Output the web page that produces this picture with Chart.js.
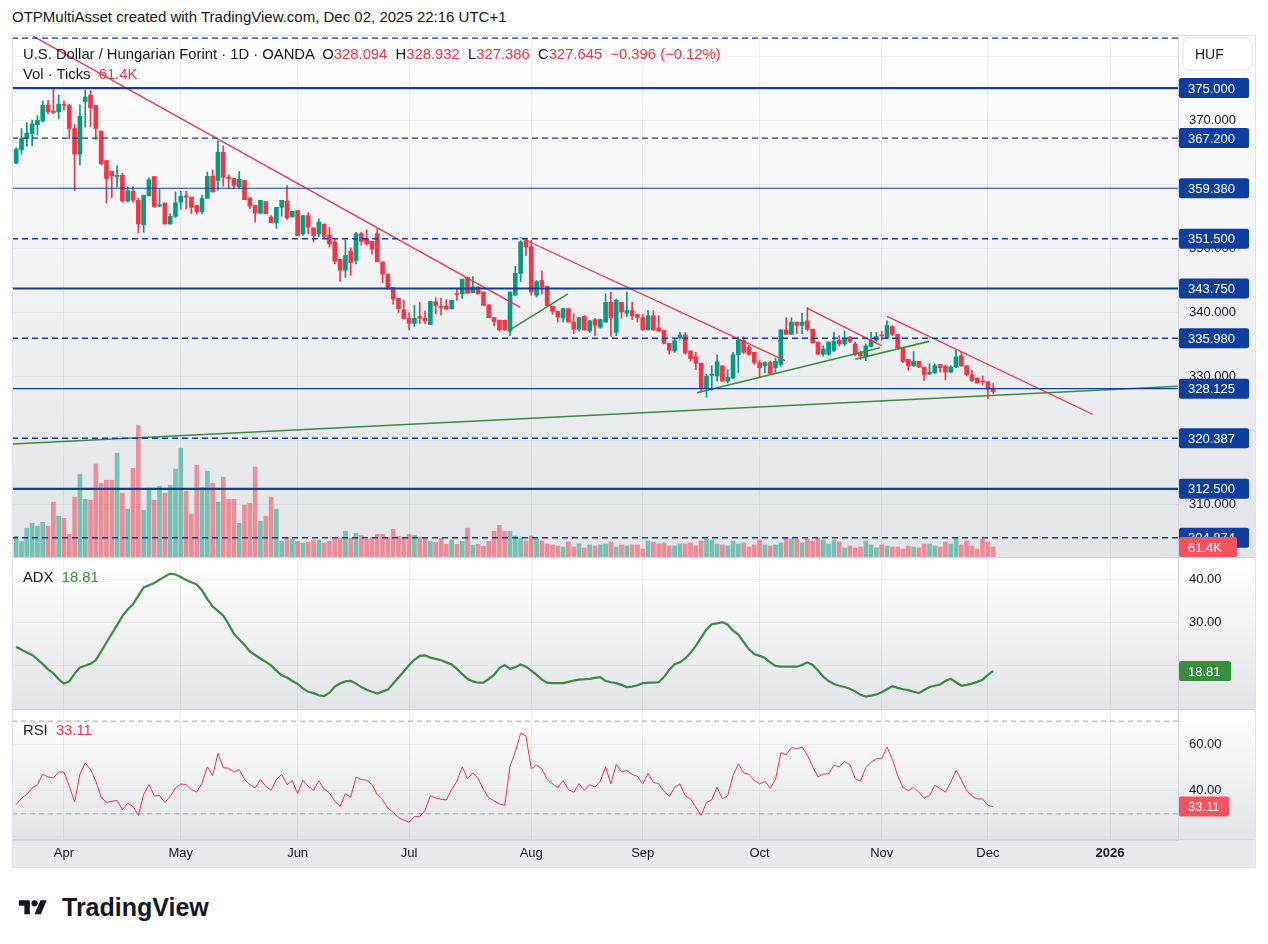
<!DOCTYPE html>
<html>
<head>
<meta charset="utf-8">
<script src="https://cdn.jsdelivr.net/npm/chart.js@4.4.1/dist/chart.umd.min.js"></script>
<style>
  body { margin: 0; background: #fff; width: 1268px; height: 944px; position: relative; overflow: hidden;
         font-family: "Liberation Sans", Arial, sans-serif; color: #131722; }
  .abs { position: absolute; }
  canvas { position: absolute; left: 12px; }
  #hdr { left: 12px; top: 8px; font-size: 15px; }
  .leg { left: 23px; font-size: 14.8px; line-height: 18px; white-space: pre; }
  .red { color: #f23645; }
  .grn { color: #388e3c; }
  #frame { left: 12px; top: 35px; width: 1244px; height: 833px; border: 1px solid #e0e3eb; box-sizing: border-box; pointer-events: none; }
  #logo { left: 14px; top: 893px; display: flex; align-items: center; font-size: 25px; font-weight: bold; }
</style>
</head>
<body>
<div id="hdr" class="abs">OTPMultiAsset created with TradingView.com, Dec 02, 2025 22:16 UTC+1</div>
<canvas id="priceChart" width="1244" height="523" style="top:35px"></canvas>
<canvas id="adxChart" width="1244" height="152" style="top:558px"></canvas>
<canvas id="rsiChart" width="1244" height="158" style="top:710px"></canvas>
<div id="frame" class="abs"></div>
<div class="abs leg" style="top:45px">U.S. Dollar / Hungarian Forint · 1D · OANDA  O<span class="red">328.094</span>  H<span class="red">328.932</span>  L<span class="red">327.386</span>  C<span class="red">327.645</span>  <span class="red">−0.396 (−0.12%)</span></div>
<div class="abs leg" style="top:65px">Vol · Ticks  <span class="red">61.4K</span></div>
<div class="abs leg" style="top:568px">ADX  <span class="grn">18.81</span></div>
<div class="abs leg" style="top:721px">RSI  <span class="red">33.11</span></div>
<div id="logo" class="abs">
  <svg width="38" height="22" viewBox="0 0 36 28"><path fill="#131722" d="M14 22H7V11H0V4h14v18zM28 22h-8l7.5-18h8L28 22z"/><circle fill="#131722" cx="20" cy="8" r="4"/></svg>
  <span style="margin-left:10px">TradingView</span>
</div>

<script>
// daily USD/HUF candles, Mar 19 - Dec 02 2025 (bar index 0..184)
const opens = [
  363.3, 365.4, 367.1, 367.9, 369.3, 369.9, 372.3, 371.4, 371.3, 372.4,
  372.3, 368.7, 364.7, 372.9, 373.9, 372.3, 368.3, 363.7, 362.0, 361.2,
  361.4, 357.4, 358.9, 357.5, 353.7, 358.2, 361.2, 356.6, 357.1, 353.8,
  355.0, 357.2, 358.2, 358.0, 356.7, 355.7, 357.8, 361.25, 360.6, 365.0,
  361.1, 360.9, 359.6, 360.6, 357.9, 356.7, 355.5, 357.3, 354.9, 354.0,
  356.4, 357.4, 354.9, 355.9, 352.3, 355.1, 353.2, 352.3, 353.8, 352.1,
  351.0, 348.3, 346.6, 349.6, 348.1, 352.3, 351.5, 351.1, 352.3, 347.9,
  346.0, 343.9, 342.2, 340.4, 339.1, 338.3, 339.4, 339.1, 338.1, 341.7,
  341.0, 341.0, 340.6, 342.9, 342.9, 345.5, 343.1, 344.0, 343.2, 341.2,
  339.2, 338.8, 338.8, 337.1, 342.7, 346.1, 351.2, 350.3, 342.7, 345.0,
  344.1, 341.0, 340.2, 339.2, 340.6, 338.5, 337.4, 339.4, 337.1, 338.9,
  337.7, 338.5, 341.6, 336.9, 341.6, 339.9, 340.3, 339.7, 339.2, 337.3,
  339.5, 337.6, 337.2, 335.2, 334.0, 336.0, 336.5, 334.0, 333.1, 332.1,
  328.2, 330.2, 330.1, 331.7, 329.3, 329.8, 333.4, 335.7, 334.6, 333.8,
  332.2, 331.7, 332.2, 331.4, 331.9, 337.3, 336.6, 338.5, 338.0, 338.7,
  337.4, 335.4, 333.5, 333.5, 334.1, 335.7, 335.1, 336.15, 335.1, 333.6,
  333.1, 334.7, 335.7, 336.45, 336.0, 337.8, 336.6, 334.5, 332.7, 331.7,
  332.4, 331.5, 330.4, 330.6, 331.9, 331.7, 330.7, 331.5, 333.25, 331.7,
  330.3, 329.8, 329.25, 329.2, 328.094
];
const highs = [
  365.7, 368.7, 369.6, 370.0, 370.7, 373.0, 373.1, 375.0, 373.9, 373.0,
  372.5, 369.3, 372.4, 374.7, 374.6, 372.3, 368.3, 363.7, 362.0, 362.9,
  361.7, 359.6, 359.6, 357.8, 358.3, 361.0, 361.2, 359.2, 357.1, 355.4,
  358.8, 358.9, 358.9, 358.0, 356.7, 358.3, 361.9, 362.2, 366.7, 366.0,
  361.5, 360.9, 362.0, 360.6, 357.9, 356.7, 357.5, 357.3, 355.1, 356.4,
  357.5, 359.8, 355.8, 355.9, 355.1, 355.6, 353.2, 354.6, 353.8, 353.3,
  351.5, 348.3, 351.3, 350.1, 352.5, 352.5, 352.9, 351.1, 353.1, 347.9,
  346.0, 343.9, 342.2, 341.9, 340.0, 341.1, 341.6, 340.2, 341.7, 342.3,
  342.2, 342.0, 341.9, 343.7, 345.2, 345.5, 345.6, 344.0, 343.2, 341.2,
  339.2, 338.8, 338.8, 343.2, 347.2, 351.2, 351.4, 351.3, 345.0, 346.5,
  344.1, 341.0, 340.2, 340.7, 340.6, 339.8, 339.2, 339.5, 338.8, 339.1,
  339.0, 342.9, 343.2, 342.1, 341.6, 343.2, 341.6, 339.7, 339.7, 340.3,
  340.3, 339.5, 337.2, 335.2, 335.9, 336.9, 336.9, 334.0, 333.8, 332.1,
  330.4, 331.7, 333.4, 331.7, 331.1, 333.8, 336.2, 336.2, 334.9, 333.8,
  332.5, 332.3, 332.4, 332.9, 337.3, 339.2, 339.2, 338.5, 339.9, 340.8,
  337.4, 335.4, 334.8, 335.4, 336.9, 336.4, 337.1, 336.3, 335.4, 334.0,
  335.1, 336.9, 336.9, 337.1, 338.75, 337.97, 336.6, 334.5, 332.7, 333.9,
  332.4, 331.5, 332.0, 332.0, 331.9, 331.7, 331.7, 334.1, 333.8, 331.7,
  331.0, 329.8, 330.1, 329.2, 328.932
];
const lows = [
  363.2, 364.7, 365.9, 366.0, 367.7, 369.7, 371.0, 371.0, 370.2, 371.6,
  367.1, 359.0, 363.0, 368.9, 369.0, 367.0, 363.0, 357.1, 357.9, 359.6,
  357.2, 357.2, 357.2, 352.4, 352.5, 358.2, 356.4, 356.5, 353.8, 353.8,
  354.8, 356.1, 356.1, 355.4, 355.4, 355.4, 357.8, 358.8, 359.1, 359.7,
  359.3, 359.3, 359.3, 357.6, 356.2, 354.1, 355.4, 355.4, 354.0, 353.1,
  355.0, 354.5, 354.9, 352.0, 352.0, 352.3, 351.0, 351.8, 351.5, 350.2,
  347.6, 344.9, 345.5, 345.8, 347.6, 350.5, 350.5, 349.1, 347.9, 344.6,
  343.6, 341.3, 340.0, 339.0, 337.3, 337.8, 338.3, 338.3, 338.1, 339.8,
  339.6, 340.4, 340.5, 341.9, 342.2, 343.0, 343.1, 342.9, 341.1, 339.2,
  337.9, 337.1, 337.2, 336.4, 342.7, 344.8, 348.9, 342.7, 342.4, 342.9,
  341.1, 339.7, 338.5, 338.5, 338.5, 336.7, 337.1, 337.2, 336.9, 336.4,
  337.5, 338.5, 336.3, 336.4, 339.1, 339.3, 338.9, 338.5, 337.2, 337.3,
  337.2, 337.1, 335.1, 333.5, 333.8, 335.8, 333.5, 332.4, 331.1, 327.6,
  326.8, 327.9, 329.3, 329.2, 329.0, 329.7, 330.6, 333.6, 333.3, 331.9,
  329.9, 330.6, 330.4, 330.6, 331.6, 336.6, 336.6, 336.7, 336.7, 337.1,
  335.2, 333.4, 333.2, 333.3, 333.9, 334.8, 334.8, 335.3, 333.25, 332.7,
  332.5, 334.6, 335.5, 335.7, 335.9, 336.4, 334.3, 332.2, 331.0, 331.6,
  331.4, 329.4, 330.3, 330.5, 330.7, 329.5, 330.6, 331.4, 331.6, 330.1,
  329.2, 329.0, 328.7, 326.6, 327.386
];
const closes = [
  365.5, 367.1, 368.0, 369.4, 370.0, 372.3, 371.3, 371.2, 372.5, 372.3,
  368.7, 364.7, 370.6, 373.6, 371.9, 368.7, 363.2, 360.9, 361.3, 361.4,
  357.4, 359.0, 357.5, 353.8, 358.3, 360.7, 356.5, 356.8, 353.8, 355.0,
  357.1, 358.1, 358.0, 356.4, 355.7, 357.8, 361.25, 358.8, 365.0, 361.1,
  360.9, 359.8, 360.8, 357.6, 356.6, 355.5, 357.5, 355.4, 354.0, 356.4,
  357.5, 354.8, 355.8, 352.0, 355.1, 353.3, 352.0, 354.1, 351.8, 350.7,
  348.0, 346.6, 348.9, 347.8, 352.3, 351.1, 350.7, 349.9, 347.9, 346.0,
  343.7, 342.1, 340.6, 339.0, 338.3, 339.1, 339.1, 338.7, 341.7, 341.1,
  340.8, 340.6, 341.9, 342.8, 345.2, 343.0, 344.0, 342.9, 341.1, 339.2,
  338.6, 337.3, 337.3, 343.2, 346.1, 351.0, 350.2, 343.2, 344.8, 344.0,
  341.1, 340.2, 339.3, 340.6, 338.5, 337.4, 339.2, 337.3, 338.7, 338.0,
  338.9, 341.6, 339.2, 341.9, 340.1, 340.3, 339.5, 339.2, 337.3, 339.5,
  337.3, 337.1, 335.2, 334.1, 335.6, 336.5, 333.7, 332.8, 332.1, 328.1,
  330.1, 330.4, 332.3, 329.3, 329.9, 333.4, 335.7, 333.8, 333.5, 332.2,
  331.4, 332.2, 330.5, 332.4, 337.3, 336.6, 338.5, 338.0, 338.5, 337.4,
  335.3, 333.5, 334.3, 335.4, 335.5, 335.1, 335.9, 335.5, 333.5, 333.25,
  334.8, 335.7, 336.25, 336.35, 337.97, 336.6, 334.5, 332.4, 331.7, 332.4,
  331.5, 330.3, 330.7, 331.7, 331.4, 330.7, 331.5, 333.1, 331.7, 330.3,
  329.4, 329.0, 329.15, 328.04, 327.645
];
// tick volume, thousands
const volumes = [
  121, 93, 166, 193, 177, 199, 177, 311, 233, 221,
  132, 339, 467, 327, 322, 523, 417, 433, 433, 584,
  361, 272, 500, 737, 266, 389, 322, 400, 361, 405,
  495, 612, 372, 244, 517, 394, 484, 417, 311, 450,
  327, 327, 193, 294, 305, 506, 205, 233, 339, 272,
  93, 115, 104, 93, 82, 87, 99, 99, 82, 93,
  104, 110, 149, 110, 138, 126, 104, 115, 132, 132,
  115, 160, 121, 110, 132, 126, 115, 115, 93, 87,
  110, 76, 99, 76, 93, 166, 71, 76, 65, 93,
  149, 182, 149, 149, 123, 112, 95, 123, 106, 95,
  78, 73, 67, 61, 89, 61, 78, 56, 73, 67,
  73, 78, 89, 61, 73, 67, 73, 73, 50, 95,
  89, 78, 84, 67, 67, 78, 78, 84, 67, 95,
  106, 100, 78, 73, 67, 95, 78, 84, 61, 73,
  100, 73, 67, 73, 84, 112, 106, 106, 84, 106,
  95, 112, 100, 78, 100, 89, 56, 67, 56, 61,
  95, 73, 56, 73, 67, 61, 61, 50, 67, 61,
  56, 78, 78, 67, 61, 89, 78, 112, 73, 95,
  67, 50, 106, 89, 61.4
];
const adxValues = [
  24.4, 23.7, 23.1, 22.5, 21.5, 20.4, 19.2, 18.3, 16.9, 15.9,
  16.4, 18.2, 19.6, 20.0, 20.5, 21.3, 23.3, 25.4, 27.4, 29.4,
  31.5, 33.0, 34.2, 36.2, 38.1, 38.6, 39.1, 39.9, 40.6, 41.3,
  41.1, 40.5, 39.8, 39.3, 38.8, 37.4, 35.4, 33.7, 32.7, 31.6,
  29.6, 27.4, 26.1, 24.8, 23.3, 22.5, 21.7, 20.9, 20.1, 18.9,
  17.8, 17.3, 16.5, 15.8, 14.8, 14.0, 13.7, 13.2, 13.0, 13.8,
  15.2, 15.9, 16.4, 16.5, 15.9, 15.1, 14.5, 14.0, 13.6, 14.1,
  14.5, 15.9, 17.3, 18.7, 20.2, 21.4, 22.3, 22.4, 21.9, 21.6,
  21.3, 20.8, 20.3, 19.3, 18.1, 17.0, 16.4, 16.1, 16.1, 17.0,
  17.9, 19.5, 20.2, 19.3, 19.7, 20.3, 19.8, 18.9, 17.9, 16.8,
  16.1, 16.0, 16.0, 16.0, 16.3, 16.6, 16.8, 16.9, 17.0, 17.2,
  17.4, 16.5, 16.2, 16.0, 15.6, 15.1, 15.2, 15.5, 16.0, 16.1,
  16.1, 16.2, 17.4, 19.1, 20.4, 20.8, 21.7, 23.0, 24.6, 26.5,
  28.4, 29.6, 29.8, 30.1, 29.5, 28.1, 27.2, 25.5, 23.8, 22.7,
  22.3, 21.8, 20.8, 20.0, 19.8, 19.8, 19.8, 19.8, 20.2, 20.8,
  20.2, 18.9, 17.5, 16.5, 15.8, 15.4, 15.1, 14.7, 14.1, 13.3,
  12.9, 13.1, 13.4, 13.9, 14.6, 15.3, 14.9, 14.6, 14.4, 14.0,
  13.7, 14.4, 15.1, 15.4, 15.7, 16.5, 17.0, 16.2, 15.4, 15.6,
  15.9, 16.3, 16.8, 17.9, 18.81
];
const rsiValues = [
  34.0, 36.8, 38.3, 41.2, 42.6, 47.0, 45.9, 45.5, 48.1, 48.0,
  41.9, 35.1, 47.0, 52.0, 49.1, 44.1, 37.2, 34.9, 35.4, 35.8,
  31.7, 34.6, 33.2, 29.3, 38.3, 42.6, 37.8, 37.8, 34.9, 37.5,
  41.2, 42.9, 42.6, 40.4, 39.4, 43.3, 50.3, 46.5, 56.1, 49.9,
  49.7, 48.0, 49.1, 44.8, 42.6, 41.2, 44.8, 41.9, 40.1, 44.8,
  47.0, 42.6, 44.3, 38.7, 44.5, 41.9, 40.1, 44.3, 40.7, 39.0,
  35.4, 33.2, 38.7, 37.2, 45.9, 44.8, 44.5, 42.6, 38.3, 36.0,
  32.5, 30.6, 28.3, 27.3, 26.4, 28.8, 28.8, 31.5, 37.8, 36.8,
  36.3, 36.0, 40.5, 44.1, 50.3, 45.2, 47.7, 45.1, 40.5, 37.0,
  35.5, 34.3, 33.6, 50.6, 56.7, 64.8, 63.6, 49.4, 51.0, 49.4,
  44.8, 43.0, 41.4, 44.3, 40.4, 39.3, 43.0, 40.1, 42.6, 41.6,
  44.1, 50.3, 42.9, 51.3, 48.1, 48.7, 47.0, 46.2, 42.9, 47.4,
  43.6, 43.0, 39.7, 37.5, 41.4, 42.9, 37.8, 36.4, 32.8, 29.3,
  34.9, 36.1, 41.4, 36.5, 37.8, 46.5, 51.6, 47.7, 47.0, 44.5,
  42.9, 44.1, 41.0, 44.8, 56.4, 55.4, 58.6, 58.1, 58.8, 55.4,
  50.3, 45.9, 47.2, 47.2, 50.9, 50.3, 52.5, 51.3, 45.2, 44.1,
  49.9, 52.3, 53.8, 53.8, 58.8, 53.5, 46.5, 41.4, 40.0, 41.4,
  39.3, 36.8, 37.8, 42.3, 40.9, 39.4, 43.6, 48.8, 44.5, 40.1,
  37.5, 36.4, 36.4, 33.6, 33.11
];

// x axis: bar index of the first trading day of each month
const monthIdx = [9, 31, 53, 74, 97, 118, 140, 163, 183, 206];
const monthNames = ['Apr', 'May', 'Jun', 'Jul', 'Aug', 'Sep', 'Oct', 'Nov', 'Dec', '2026'];

// horizontal levels drawn on the chart
const thickLevels = [375, 343.75, 312.5];
const thinLevels = [359.38, 328.125];
const dashedLevels = [382.8, 367.2, 351.5, 335.98, 320.387, 304.874];
const taggedLevels = [375, 367.2, 359.38, 351.5, 343.75, 335.98, 328.125, 320.387, 312.5, 304.874];

// trend lines: [startIndex, startPrice, endIndex, endPrice]
const redTrends = [[3.16, 383.1, 94.9, 340.8], [94.9, 351.7, 144.8, 332.5], [149.1, 340.6, 163.0, 334.8], [164.0, 339.4, 202.8, 324.1]];
const greenTrends = [[-0.79, 319.5, 218.8, 328.5], [92.6, 337.1, 103.9, 342.9], [128.2, 327.5, 162.7, 334.5], [158.0, 332.7, 171.9, 335.5]];

const rsiBands = [70, 30];
const priceTicks = [310, 320, 330, 340, 350, 360, 370, 380];
const adxTicks = [10, 20, 30, 40];
const adxLabelled = [30, 40];
const rsiTicks = [20, 40, 60];
const rsiLabelled = [40, 60];

const FONT = '"Liberation Sans", Arial, sans-serif';
const X_MIN = -0.79, X_MAX = 218.8;
const UP = '#089981', DOWN = '#f23645';
const LEVEL = '#0e3f9e';
const N = closes.length;
const isUp = i => closes[i] >= opens[i];

function xScale(showTicks) {
  return {
    type: 'linear', min: X_MIN, max: X_MAX, offset: false,
    afterBuildTicks: s => { s.ticks = monthIdx.map(v => ({ value: v })) },
    afterFit: s => { s.height = showTicks ? 28 : 0; s.paddingLeft = 0; s.paddingRight = 0 },
    grid: { color: 'rgba(42,46,57,0.07)', drawTicks: false, offset: false },
    border: { display: showTicks, color: '#d1d4dc' },
    ticks: {
      display: showTicks, autoSkip: false, maxRotation: 0, padding: 6, color: '#131722',
      font: c => ({ family: FONT, size: 13, weight: monthNames[c.index] === '2026' ? 'bold' : 'normal' }),
      callback: (v, idx) => monthNames[idx]
    }
  };
}

function yScale(min, max, ticks, fmt) {
  return {
    position: 'right', min: min, max: max,
    afterBuildTicks: s => { s.ticks = ticks.map(v => ({ value: v })) },
    afterFit: s => { s.width = 78; s.paddingTop = 0; s.paddingBottom = 0 },
    grid: { color: 'rgba(42,46,57,0.06)', drawTicks: false },
    border: { display: true, color: '#d1d4dc' },
    ticks: { padding: 11, color: '#131722', font: { family: FONT, size: 13 }, callback: fmt }
  };
}

function segment(x0, y0, x1, y1, color, width, dash) {
  return {
    type: 'line', data: [{ x: x0, y: y0 }, { x: x1, y: y1 }],
    borderColor: color, borderWidth: width, borderDash: dash || [],
    pointRadius: 0, tension: 0, fill: false, order: 0
  };
}

function roundRect(ctx, x, y, w, h, r) {
  ctx.beginPath();
  ctx.moveTo(x + r, y);
  ctx.arcTo(x + w, y, x + w, y + h, r);
  ctx.arcTo(x + w, y + h, x, y + h, r);
  ctx.arcTo(x, y + h, x, y, r);
  ctx.arcTo(x, y, x + w, y, r);
  ctx.closePath();
}

function drawTag(ctx, x, y, w, text, bg) {
  ctx.fillStyle = bg;
  roundRect(ctx, x, y - 10, w, 20, 2);
  ctx.fill();
  ctx.fillStyle = '#ffffff';
  ctx.font = '13px ' + FONT;
  ctx.textBaseline = 'middle';
  ctx.textAlign = 'left';
  ctx.fillText(text, x + 9, y + 1);
}

// white-to-grey pane background, plus the separator under each pane
const paneBg = {
  id: 'paneBg',
  beforeDraw(chart) {
    const { ctx, chartArea: a } = chart;
    const g = ctx.createLinearGradient(0, a.top, 0, a.bottom);
    g.addColorStop(0, '#ffffff');
    g.addColorStop(1, '#e3e4e8');
    ctx.save();
    ctx.fillStyle = g;
    ctx.fillRect(0, 0, chart.width, a.bottom);
    if (a.bottom < chart.height) {
      ctx.fillStyle = '#e9eaed';
      ctx.fillRect(0, a.bottom, chart.width, chart.height - a.bottom);
    }
    ctx.restore();
  },
  afterDraw(chart) {
    const ctx = chart.ctx;
    ctx.save();
    ctx.fillStyle = '#d1d4dc';
    ctx.fillRect(0, chart.chartArea.bottom - 1, chart.width, 1);
    ctx.restore();
  }
};

const priceTags = {
  id: 'priceTags',
  afterDraw(chart) {
    const { ctx, chartArea: a, scales } = chart;
    const x0 = a.right + 1;
    ctx.save();
    taggedLevels.forEach(v => drawTag(ctx, x0, scales.y.getPixelForValue(v), 70, v.toFixed(3), LEVEL));
    drawTag(ctx, x0, scales.yVol.getPixelForValue(volumes[N - 1]), 58, volumes[N - 1].toFixed(1) + 'K', '#f7525f');
    // currency box
    ctx.fillStyle = '#ffffff';
    ctx.strokeStyle = '#e0e3eb';
    roundRect(ctx, x0 + 4, 3, 69, 32, 6);
    ctx.fill();
    ctx.stroke();
    ctx.fillStyle = '#131722';
    ctx.font = '14px ' + FONT;
    ctx.textBaseline = 'middle';
    ctx.fillText('HUF', x0 + 16, 20);
    ctx.restore();
  }
};

const lastTag = (id, values, color, w) => ({
  id: id,
  afterDraw(chart) {
    const v = values[values.length - 1];
    chart.ctx.save();
    drawTag(chart.ctx, chart.chartArea.right + 1, chart.scales.y.getPixelForValue(v), w, v.toFixed(2), color);
    chart.ctx.restore();
  }
});

const base = {
  responsive: false, animation: false, events: [],
  layout: { padding: 0 },
  plugins: { legend: { display: false }, tooltip: { enabled: false } }
};

// price pane: volume, wicks, bodies, levels, trend lines
const priceDatasets = [
  {
    type: 'bar', yAxisID: 'yVol', order: 9, grouped: false, barThickness: 4,
    data: volumes.map((v, i) => ({ x: i, y: v })),
    backgroundColor: volumes.map((v, i) => isUp(i) ? 'rgba(8,153,129,0.5)' : 'rgba(242,54,69,0.5)')
  },
  {
    type: 'bar', yAxisID: 'y', order: 6, grouped: false, barThickness: 1,
    data: closes.map((c, i) => ({ x: i, y: [lows[i], highs[i]] })),
    backgroundColor: closes.map((c, i) => isUp(i) ? UP : DOWN)
  },
  {
    type: 'bar', yAxisID: 'y', order: 5, grouped: false, barThickness: 4, minBarLength: 1,
    data: closes.map((c, i) => ({ x: i, y: [Math.min(opens[i], c), Math.max(opens[i], c)] })),
    backgroundColor: closes.map((c, i) => isUp(i) ? UP : DOWN)
  }
];
thickLevels.forEach(p => priceDatasets.push(segment(X_MIN, p, X_MAX, p, LEVEL, 2.2)));
thinLevels.forEach(p => priceDatasets.push(segment(X_MIN, p, X_MAX, p, LEVEL, 1.2)));
dashedLevels.forEach(p => priceDatasets.push(segment(X_MIN, p, X_MAX, p, LEVEL, 1.4, [6, 4])));
redTrends.forEach(t => priceDatasets.push(segment(t[0], t[1], t[2], t[3], '#f23645', 1.3)));
greenTrends.forEach(t => priceDatasets.push(segment(t[0], t[1], t[2], t[3], '#388e3c', 1.6)));

new Chart(document.getElementById('priceChart'), {
  type: 'bar',
  data: { datasets: priceDatasets },
  options: Object.assign({}, base, {
    scales: {
      x: xScale(false),
      y: yScale(301.72, 383.28, priceTicks, v => v.toFixed(3)),
      yVol: { display: false, min: 0, max: 2913 }
    }
  }),
  plugins: [paneBg, priceTags]
});

new Chart(document.getElementById('adxChart'), {
  type: 'line',
  data: {
    datasets: [{
      data: adxValues.map((v, i) => ({ x: i, y: v })),
      borderColor: '#388e3c', borderWidth: 2.2, pointRadius: 0, tension: 0, fill: false
    }]
  },
  options: Object.assign({}, base, {
    scales: {
      x: xScale(false),
      y: yScale(9.8, 44.9, adxTicks, v => adxLabelled.includes(v) ? v.toFixed(2) : '')
    }
  }),
  plugins: [paneBg, lastTag('adxTag', adxValues, '#388e3c', 52)]
});

const rsiDatasets = [{
  data: rsiValues.map((v, i) => ({ x: i, y: v })),
  borderColor: '#f23645', borderWidth: 1, pointRadius: 0, tension: 0, fill: false, order: 0
}];
rsiBands.forEach(b => rsiDatasets.push(Object.assign(segment(X_MIN, b, X_MAX, b, '#a3a6af', 1, [5, 4]), { order: 1 })));

new Chart(document.getElementById('rsiChart'), {
  type: 'line',
  data: { datasets: rsiDatasets },
  options: Object.assign({}, base, {
    scales: {
      x: xScale(true),
      y: yScale(18.7, 74.8, rsiTicks, v => rsiLabelled.includes(v) ? v.toFixed(2) : '')
    }
  }),
  plugins: [paneBg, lastTag('rsiTag', rsiValues, '#f7525f', 50)]
});
</script>
</body>
</html>
